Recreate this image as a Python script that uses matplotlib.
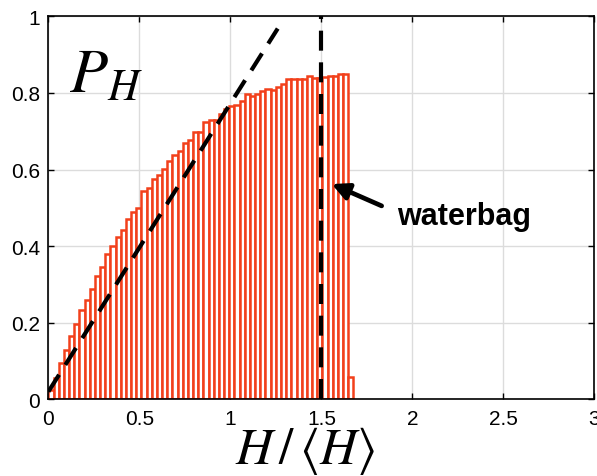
import numpy as np
import matplotlib
matplotlib.use("Agg")
import matplotlib.pyplot as plt

# ---- data ----
bin_width = 0.0284
heights = [0.025, 0.055, 0.095, 0.129, 0.166, 0.196, 0.232, 0.260, 0.288, 0.323,
           0.345, 0.380, 0.400, 0.423, 0.443, 0.471, 0.490, 0.499, 0.545, 0.552,
           0.574, 0.586, 0.602, 0.623, 0.637, 0.648, 0.669, 0.678, 0.698, 0.698,
           0.724, 0.728, 0.728, 0.746, 0.759, 0.766, 0.768, 0.778, 0.796, 0.792,
           0.798, 0.804, 0.810, 0.807, 0.816, 0.822, 0.837, 0.835, 0.836, 0.837,
           0.844, 0.839, 0.840, 0.842, 0.844, 0.844, 0.850, 0.849, 0.057]
diag_x = [0.0, 1.26]
diag_y = [0.02, 0.968]
waterbag_x = 1.5
xticks = [0, 0.5, 1, 1.5, 2, 2.5, 3]
xticklabels = ["0", "0.5", "1", "1.5", "2", "2.5", "3"]
yticks = [0, 0.2, 0.4, 0.6, 0.8, 1]
yticklabels = ["0", "0.2", "0.4", "0.6", "0.8", "1"]

plt.rcParams['mathtext.fontset'] = 'stix'
plt.rcParams['font.family'] = ['Liberation Sans', 'DejaVu Sans']

fig = plt.figure(figsize=(5.97, 4.77), dpi=100)
ax = fig.add_axes([48.4/597, 1-400.3/477, (594.4-48.4)/597, (400.3-17.3)/477])

lefts = np.arange(len(heights)) * bin_width
ax.bar(lefts, heights, width=bin_width, align='edge', facecolor='white',
       edgecolor='#f2401b', linewidth=1.8, zorder=2)

ax.plot(diag_x, diag_y, color='black', lw=3.0, dashes=(4.8, 2.8), zorder=3,
        dash_capstyle='butt')
ax.plot([waterbag_x, waterbag_x], [0, 1], color='black', lw=3.0,
        dashes=(4.8, 2.8), zorder=3, dash_capstyle='butt')

ax.set_xlim(0, 3)
ax.set_ylim(0, 1)
ax.set_xticks(xticks)
ax.set_xticklabels(xticklabels)
ax.set_yticks(yticks)
ax.set_yticklabels(yticklabels)
ax.grid(True, color='#dcdcdc', lw=1.0, zorder=0)
ax.set_axisbelow(True)
ax.tick_params(direction='in', length=4, width=1, top=True, right=True,
               labelsize=15, pad=6, colors='black')
ax.tick_params(axis='x', pad=7)
for s in ax.spines.values():
    s.set_linewidth(1.2)
    s.set_zorder(5)

ax.set_xlabel(r'$H\,/\,\langle H\rangle$', fontsize=37)
ax.xaxis.set_label_coords((305 - 48.4) / 546.0, -0.064, transform=ax.transAxes)
ax.xaxis.label.set_va('top')
ax.text(0.112, 0.803, r'$P_H$', fontsize=45, ha='left', va='baseline', zorder=6)

ax.annotate('', xy=(1.557, 0.562), xytext=(1.831, 0.505),
            arrowprops=dict(arrowstyle='-|>,head_length=1.0,head_width=0.5',
                            color='black', lw=3.4, shrinkA=0, shrinkB=0), zorder=6)
ax.text(1.914, 0.458, 'waterbag', fontsize=22, fontweight='bold',
        ha='left', va='baseline', zorder=6)

fig.savefig('out.png', dpi=100)
